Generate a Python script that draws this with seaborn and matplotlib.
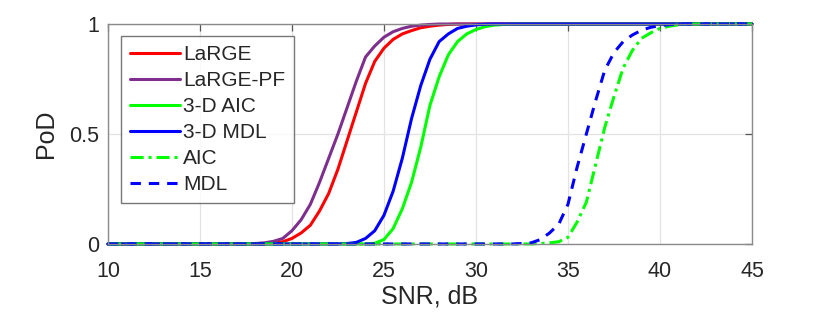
import numpy as np
import pandas as pd
import seaborn as sns
import matplotlib
matplotlib.use("Agg")
import matplotlib.pyplot as plt

# SNR grid (dB), 0.5 dB step
snr = np.arange(10, 45.01, 0.5)

def pad(start, vals):
    # zeros below `start` dB, the read values, then ones up to 45 dB
    before = [0.0] * int(round((start - 10) / 0.5))
    after = [1.0] * (len(snr) - len(before) - len(vals))
    return before + vals + after

large = pad(18.5, [0.0, 0.003, 0.01, 0.025, 0.05, 0.085, 0.15, 0.23, 0.34, 0.47,
                   0.6, 0.73, 0.83, 0.89, 0.93, 0.955, 0.97, 0.983, 0.99, 0.995, 0.998])
large_pf = pad(17.5, [0.0, 0.002, 0.005, 0.012, 0.025, 0.06, 0.11, 0.18, 0.28, 0.39,
                      0.5, 0.62, 0.74, 0.85, 0.9, 0.94, 0.965, 0.98, 0.99, 0.995, 0.998])
aic3d = pad(24.0, [0.0, 0.003, 0.02, 0.07, 0.16, 0.28, 0.44, 0.63, 0.76, 0.86,
                   0.92, 0.955, 0.975, 0.988, 0.995, 0.998])
mdl3d = pad(22.5, [0.0, 0.002, 0.007, 0.025, 0.06, 0.13, 0.24, 0.39, 0.57, 0.72,
                   0.84, 0.92, 0.955, 0.98, 0.99, 0.996, 0.999])
aic = pad(33.0, [0.0, 0.002, 0.005, 0.01, 0.03, 0.1, 0.19, 0.36, 0.53, 0.67,
                 0.8, 0.88, 0.935, 0.96, 0.98, 0.99, 0.996, 0.999])
mdl = pad(32.0, [0.0, 0.002, 0.005, 0.02, 0.05, 0.09, 0.18, 0.35, 0.5, 0.65,
                 0.79, 0.87, 0.92, 0.95, 0.972, 0.985, 0.993, 0.997])

names = ["LaRGE", "LaRGE-PF", "3-D AIC", "3-D MDL", "AIC", "MDL"]
series = [large, large_pf, aic3d, mdl3d, aic, mdl]
colors = ["#FF0000", "#7E2F8E", "#00FF00", "#0000FF", "#00FF00", "#0000FF"]
dash_styles = [None, None, None, None, (4.3, 1.6, 1.0, 1.6), (3.4, 2.6)]

xticks = [10, 15, 20, 25, 30, 35, 40, 45]
yticks = [0, 0.5, 1]
yticklabels = ["0", "0.5", "1"]

sns.set_theme(style="white")
plt.rcParams["font.family"] = ["Liberation Sans", "DejaVu Sans"]

fig = plt.figure(figsize=(8.3, 3.16), dpi=100)
ax = fig.add_axes([0.130, 0.228, 0.776, 0.696])

for name, vals, c, d in zip(names, series, colors, dash_styles):
    df = pd.DataFrame({"SNR": snr, "PoD": vals})
    sns.lineplot(data=df, x="SNR", y="PoD", ax=ax, color=c, linewidth=2.2, label=name)
    ln = ax.lines[-1]
    ln.set_clip_on(False)
    if d is not None:
        ln.set_dashes(d)

ax.set_xlim(10, 45)
ax.set_ylim(0, 1)
ax.set_xticks(xticks)
ax.set_yticks(yticks)
ax.set_yticklabels(yticklabels)
ax.grid(True, color="#E3E3E3", linewidth=0.9)
ax.set_axisbelow(True)
for s in ax.spines.values():
    s.set_color("#8a8a8a")
    s.set_linewidth(1.0)
ax.tick_params(direction="in", length=5, width=0.9, color="#555555",
               labelsize=15.5, top=True, right=True, labelcolor="#262626", pad=6)
ax.tick_params(axis="x", pad=12)
ax.set_xlabel("SNR, dB", fontsize=18, color="#262626", labelpad=2)
ax.set_ylabel("PoD", fontsize=18, color="#262626", labelpad=8)

leg = ax.legend(loc="upper left", bbox_to_anchor=(0.020, 0.945), fontsize=15,
                frameon=True, fancybox=False, edgecolor="#555555",
                handlelength=2.4, handletextpad=0.18, borderpad=0.42,
                labelspacing=0.34, borderaxespad=0.0)
leg.get_frame().set_linewidth(1.0)

fig.savefig("out.png", dpi=100)
